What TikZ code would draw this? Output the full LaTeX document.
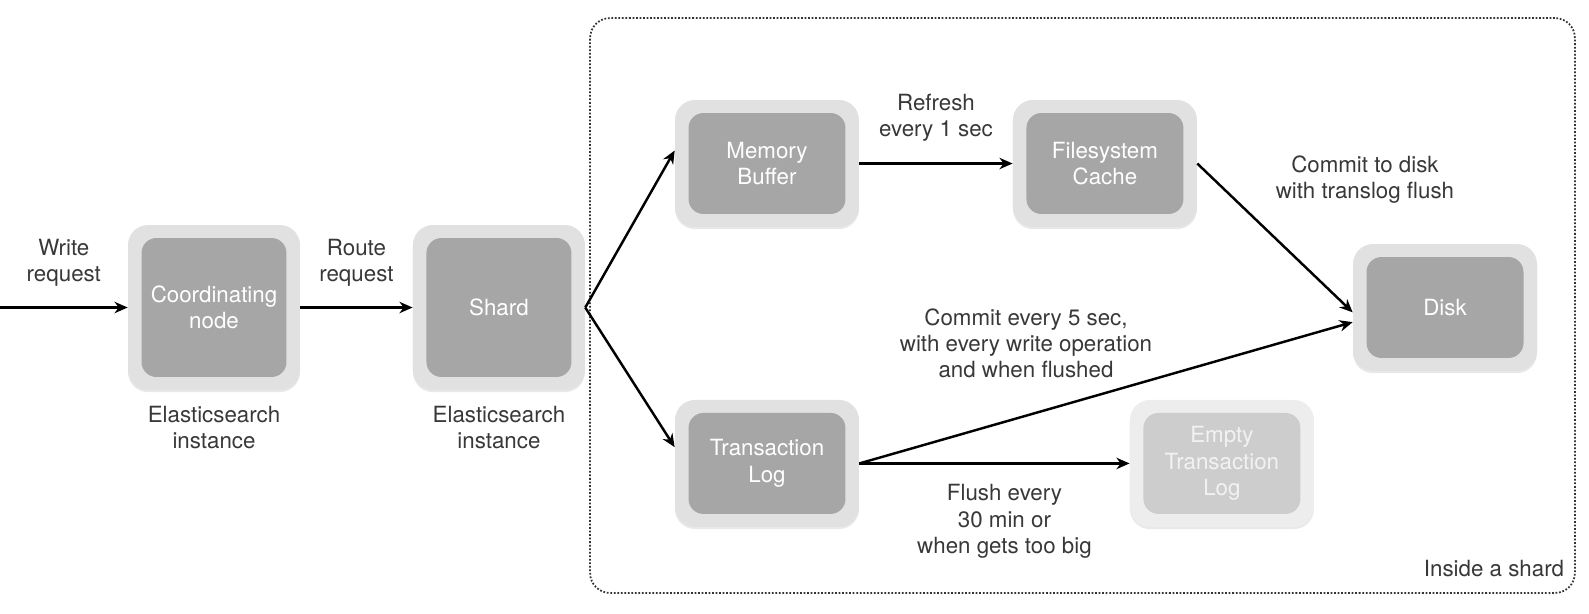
\documentclass[tikz,border=0pt]{standalone}
\usepackage{fontspec}
\setmainfont{TeX Gyre Heros}
\usetikzlibrary{arrows.meta,shadows}
\definecolor{boxouter}{HTML}{E1E1E1}
\definecolor{boxinner}{HTML}{A6A6A6}
\definecolor{idleouter}{HTML}{EDEDED}
\definecolor{idleinner}{HTML}{CDCDCD}
\definecolor{idletext}{HTML}{F2F2F2}
\definecolor{labeltext}{HTML}{383838}
\tikzset{
    stage inner/.store in=\stageinner,
    stage inner=boxinner,
    stage/.style={
           rectangle,
           rounded corners=0.4cm,
           fill=boxouter,
           minimum width=3.68cm,
           minimum height=2.54cm,
           text=white,
           align=center,
           drop shadow={opacity=0.18, shadow xshift=0pt, shadow yshift=-1.2pt},
           path picture={\fill[\stageinner, rounded corners=0.3cm]
               ([shift={(0.27cm,0.26cm)}]path picture bounding box.south west) rectangle
               ([shift={(-0.27cm,-0.26cm)}]path picture bounding box.north east);}
           },
    idle/.style={stage, fill=idleouter, stage inner=idleinner, text=idletext},
    flow/.style={line width=1.4pt},
}
\begin{document}
\begin{tikzpicture}[->,>={Stealth[length=7.5pt,width=6.5pt]},x=0.02cm,y=-0.02cm,
            font=\fontsize{12.7}{15}\selectfont, text=labeltext]
            \useasboundingbox (0,0) rectangle (1589,613);

%            inside a shard
             \node[draw=black!80, line width=1pt, dash pattern=on 1pt off 1pt,
              rounded corners=0.4cm,
              minimum width=19.7cm, minimum height=11.5cm] (area) at (1082.5,305.5) {};
             \node[anchor=south east] (arealabel)
              at ([shift={(-0.11cm,0.21cm)}]area.south east) {Inside a shard};

             \node[stage, minimum width=3.44cm, minimum height=3.3cm] (coord) at (214,307.5)
             {Coordinating\\node};

             \node[stage, minimum width=3.44cm, minimum height=3.3cm,
              right of=coord,
              node distance=5.7cm,
              anchor=center] (shard)
             {Shard};

             \node[below of=coord, node distance=2.45cm] (coordinst)
             {\begin{tabular}{c}
              Elasticsearch\\
              instance
              \end{tabular}};

             \node[below of=shard, node distance=2.45cm] (shardinst)
             {\begin{tabular}{c}
              Elasticsearch\\
              instance
              \end{tabular}};

             \node[stage] (buffer) at (767,163.5)
             {Memory\\Buffer};

             \node[stage,
              right of=buffer,
              node distance=6.76cm,
              anchor=center] (cache)
             {Filesystem\\Cache};

             \node[stage] (disk) at (1445,307.5)
             {Disk};

             \node[stage,
              below of=buffer,
              node distance=6cm,
              anchor=center] (translog)
             {Transaction\\Log};

             \node[idle,
              right of=translog,
              node distance=9.1cm,
              anchor=center] (emptylog)
             {Empty\\Transaction\\Log};

             \coordinate (in) at (0,307.5);

             \path[flow]
             (in) edge node[midway, yshift=0.88cm]
             {
            \begin{tabular}{c}
                Write\\
                request
            \end{tabular}
             }
             (coord)
             (coord) edge node[midway, yshift=0.88cm]
             {
            \begin{tabular}{c}
                Route\\
                request
            \end{tabular}
             }
             (shard)
             (shard.east) edge (buffer.172)
             (shard.east) edge (translog.170)
             (buffer) edge node[midway, yshift=0.9cm]
             {
            \begin{tabular}{c}
                Refresh\\
                every 1 sec
            \end{tabular}
             }
             (cache)
             (cache.east) edge node[midway, xshift=1.8cm, yshift=1.16cm]
             {
            \begin{tabular}{c}
                Commit to disk\\
                with translog flush
            \end{tabular}
             }
             (disk.183)
             (translog.east) edge node[midway, xshift=-1.6cm, yshift=0.93cm]
             {
            \begin{tabular}{c}
                Commit every 5 sec,\\
                with every write operation\\
                and when flushed
            \end{tabular}
             }
             (disk.189)
             (translog) edge node[midway, xshift=0.2cm, yshift=-1.17cm]
             {
            \begin{tabular}{c}
                Flush every\\
                30 min or\\
                when gets too big
            \end{tabular}
             }
             (emptylog)
             ;

        \end{tikzpicture}
\end{document}
